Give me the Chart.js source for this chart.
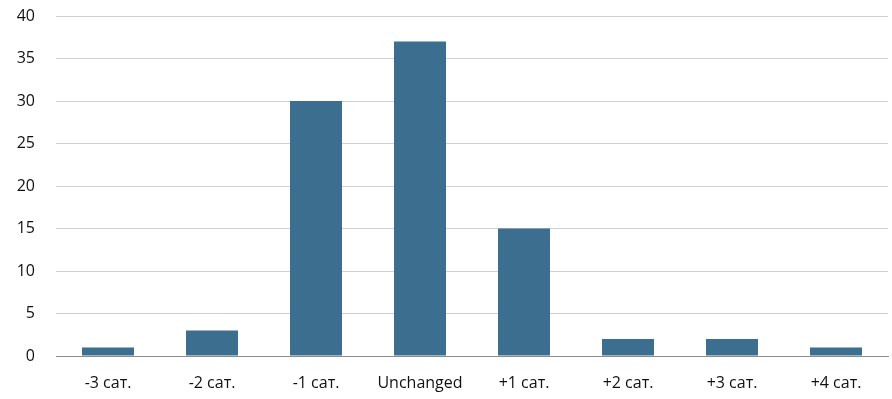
<!DOCTYPE html>
<html>
<head>
<meta charset="utf-8">
<script src="https://cdn.jsdelivr.net/npm/chart.js@4/dist/chart.umd.min.js"></script>
<style>
  html, body { margin: 0; padding: 0; background: #fff; }
  #wrap { width: 892px; height: 399px; }
</style>
</head>
<body>
<div id="wrap"><canvas id="c" width="892" height="399"></canvas></div>
<script>
// Distribution of rating changes by number of categories
const categories = ['-3 сат.', '-2 сат.', '-1 сат.', 'Unchanged', '+1 сат.', '+2 сат.', '+3 сат.', '+4 сат.'];
const counts = [1, 3, 30, 37, 15, 2, 2, 1];
const yTicks = [0, 5, 10, 15, 20, 25, 30, 35, 40];

const barColor = '#3B6E8F';
const fontFamily = "'Open Sans', 'Liberation Sans', sans-serif";

new Chart(document.getElementById('c'), {
  type: 'bar',
  data: {
    labels: categories,
    datasets: [{
      data: counts,
      backgroundColor: barColor,
      borderWidth: 0,
      categoryPercentage: 1.0,
      barPercentage: 0.5
    }]
  },
  options: {
    responsive: false,
    animation: false,
    layout: { padding: { top: 16, right: 4, left: 0, bottom: 0 } },
    plugins: { legend: { display: false }, tooltip: { enabled: false } },
    scales: {
      x: {
        grid: { display: false, drawTicks: false },
        border: { display: true, color: '#8c8c8c', width: 1 },
        ticks: {
          color: '#111',
          font: { family: fontFamily, size: 16 },
          padding: 18,
          maxRotation: 0,
          autoSkip: false
        },
        afterFit: (s) => { s.height = 43; }
      },
      y: {
        min: 0,
        max: 40,
        afterBuildTicks: (s) => { s.ticks = yTicks.map(v => ({ value: v })); },
        grid: {
          drawTicks: false,
          color: (c) => (c.tick && c.tick.value === 0 ? '#8c8c8c' : '#d0d0d0'),
          lineWidth: 1
        },
        border: { display: false },
        ticks: {
          color: '#111',
          font: { family: fontFamily, size: 16 },
          padding: 21
        },
        afterFit: (s) => { s.width = 56; s.paddingTop = 0; s.paddingBottom = 0; }
      }
    }
  }
});
</script>
</body>
</html>
